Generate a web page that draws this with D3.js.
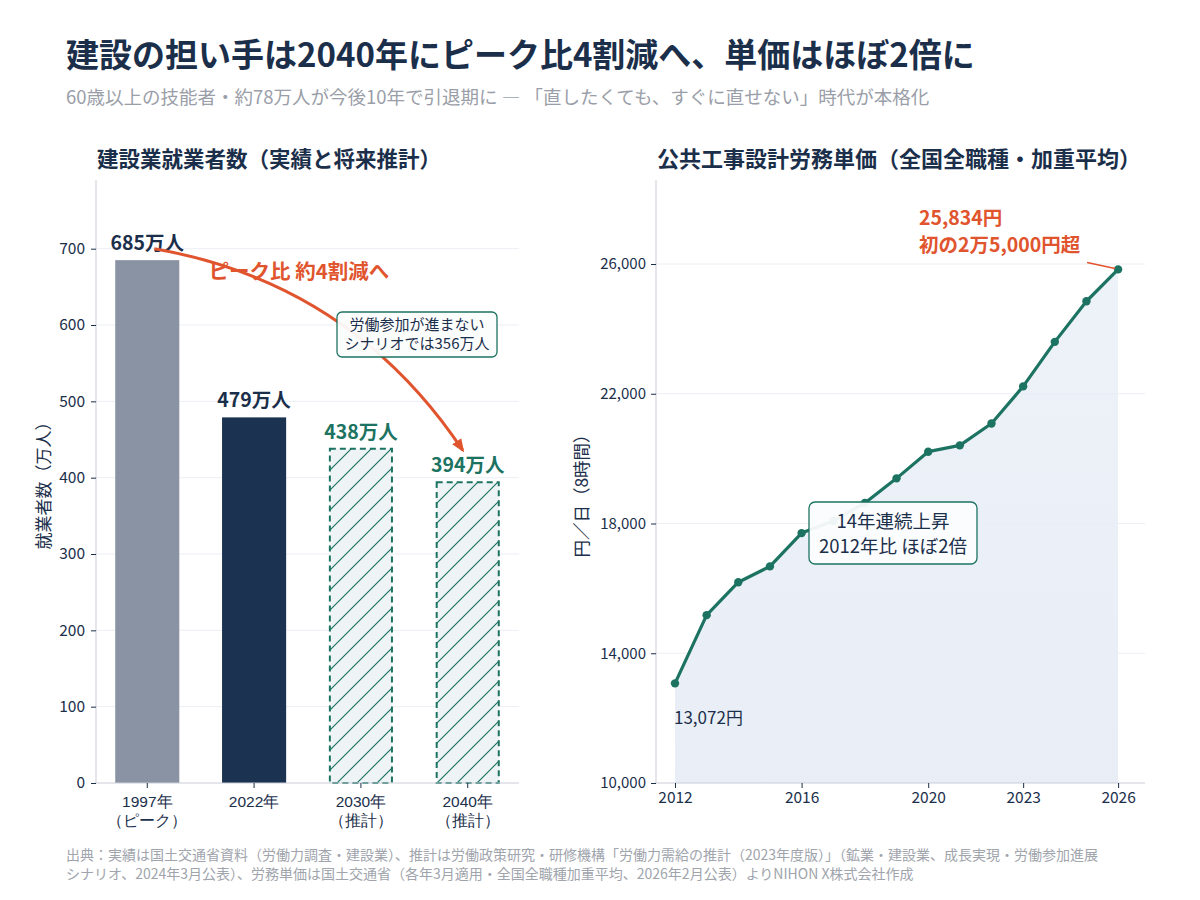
<!DOCTYPE html>
<html>
<head>
<meta charset="utf-8">
<script src="https://cdn.jsdelivr.net/npm/d3@7"></script>
<style>
  body { margin: 0; background: #fff; }
  svg { font-family: "Noto Sans CJK JP", "Noto Sans", sans-serif; }
</style>
</head>
<body>
<svg id="chart" width="1200" height="900"></svg>
<script>
// 建設業就業者数（万人）
var workerCats = ["1997年\n（ピーク）", "2022年", "2030年\n（推計）", "2040年\n（推計）"];
var workerVals = [685, 479, 438, 394];
var workerProj = [false, false, true, true];
var workerTicks = [0, 100, 200, 300, 400, 500, 600, 700];

// 公共工事設計労務単価（円／日）
var wageYears = [2012, 2013, 2014, 2015, 2016, 2017, 2018, 2019, 2020, 2021, 2022, 2023, 2024, 2025, 2026];
var wageVals = [13072, 15175, 16190, 16678, 17704, 18078, 18632, 19392, 20214, 20409, 21084, 22227, 23600, 24852, 25834];
var wageXTicks = [2012, 2016, 2020, 2023, 2026];
var wageYTicks = [10000, 14000, 18000, 22000, 26000];

var navy = "#1b2f4b",
    teal = "#1d7362",
    orange = "#e0542e",
    gridC = "#eceef4",
    spineC = "#c9cdd8",
    tickFont = 15.5;

var svg = d3.select("#chart");

// タイトル
svg.append("text").attr("x", 66).attr("y", 67)
    .attr("font-size", 33).attr("font-weight", 700).attr("fill", navy)
    .text("建設の担い手は2040年にピーク比4割減へ、単価はほぼ2倍に");
svg.append("text").attr("x", 66).attr("y", 104)
    .attr("font-size", 18.5).attr("fill", "#9a9ea8")
    .text("60歳以上の技能者・約78万人が今後10年で引退期に ― 「直したくても、すぐに直せない」時代が本格化");

var defs = svg.append("defs");
var pat = defs.append("pattern").attr("id", "hatch")
    .attr("patternUnits", "userSpaceOnUse").attr("width", 20).attr("height", 20);
pat.append("rect").attr("width", 20).attr("height", 20).attr("fill", "#eef3f6");
pat.append("path").attr("d", "M0,20 L20,0 M-5,5 L5,-5 M15,25 L25,15")
    .attr("stroke", teal).attr("stroke-width", 1.2);

var grad = defs.append("linearGradient").attr("id", "areaGrad")
    .attr("x1", 0).attr("y1", 0).attr("x2", 0).attr("y2", 1);
grad.append("stop").attr("offset", "0%").attr("stop-color", "#e6edf6").attr("stop-opacity", 0.7);
grad.append("stop").attr("offset", "100%").attr("stop-color", "#e9eef6").attr("stop-opacity", 1);

defs.append("marker").attr("id", "arrowHead")
    .attr("viewBox", "0 0 10 10").attr("refX", 8).attr("refY", 5)
    .attr("markerWidth", 4.5).attr("markerHeight", 4.5).attr("orient", "auto")
    .append("path").attr("d", "M0,1 L10,5 L0,9 Z").attr("fill", orange);

// ---------- 左：就業者数 ----------
var L = {left: 96, right: 519, top: 180, bottom: 783};

var x1 = d3.scaleBand().domain(workerCats).range([L.left, L.right])
    .paddingInner(0.4).paddingOuter(0.18);
var y1 = d3.scaleLinear().domain([0, 790]).range([L.bottom, L.top]);

svg.append("text").attr("x", 97).attr("y", 167)
    .attr("font-size", 21.5).attr("font-weight", 700).attr("fill", navy)
    .text("建設業就業者数（実績と将来推計）");

var g1 = svg.append("g");

g1.selectAll(".grid").data(workerTicks.slice(1)).enter().append("line")
    .attr("x1", L.left).attr("x2", L.right)
    .attr("y1", function (d) { return y1(d); }).attr("y2", function (d) { return y1(d); })
    .attr("stroke", gridC).attr("stroke-width", 1);

g1.selectAll(".bar").data(workerVals).enter().append("rect")
    .attr("x", function (d, i) { return x1(workerCats[i]) + (workerProj[i] ? 1 : 0); })
    .attr("width", function (d, i) { return x1.bandwidth() - (workerProj[i] ? 2 : 0); })
    .attr("y", function (d) { return y1(d); })
    .attr("height", function (d) { return y1(0) - y1(d); })
    .attr("fill", function (d, i) { return workerProj[i] ? "url(#hatch)" : (i === 0 ? "#8a93a3" : "#1b3350"); })
    .attr("stroke", function (d, i) { return workerProj[i] ? teal : "none"; })
    .attr("stroke-width", 2)
    .attr("stroke-dasharray", "6,4");

g1.selectAll(".val").data(workerVals).enter().append("text")
    .attr("x", function (d, i) { return x1(workerCats[i]) + x1.bandwidth() / 2; })
    .attr("y", function (d) { return y1(d) - 10; })
    .attr("text-anchor", "middle").attr("font-size", 19.5).attr("font-weight", 700)
    .attr("fill", function (d, i) { return workerProj[i] ? teal : navy; })
    .text(function (d) { return d + "万人"; });

// 軸
var ax1 = g1.append("g").attr("transform", "translate(" + L.left + ",0)")
    .call(d3.axisLeft(y1).tickValues(workerTicks).tickSize(5).tickPadding(6));
ax1.select(".domain").attr("stroke", spineC).attr("d", "M0," + L.top + "V" + L.bottom);
ax1.selectAll(".tick line").attr("stroke", navy);
ax1.selectAll(".tick text").attr("font-size", tickFont).attr("fill", navy)
    .attr("font-family", "'Noto Sans CJK JP', sans-serif");

var bx1 = g1.append("g").attr("transform", "translate(0," + L.bottom + ")")
    .call(d3.axisBottom(x1).tickSize(5).tickPadding(6).tickFormat(""));
bx1.select(".domain").attr("stroke", spineC).attr("d", "M" + L.left + ",0H" + L.right);
bx1.selectAll(".tick line").attr("stroke", navy);
bx1.selectAll(".tick").each(function (d) {
    var lines = d.split("\n");
    var t = d3.select(this).append("text").attr("text-anchor", "middle")
        .attr("font-size", tickFont).attr("fill", navy);
    lines.forEach(function (s, k) {
        t.append("tspan").attr("x", 0).attr("y", 24 + k * 19).text(s);
    });
});

svg.append("text")
    .attr("transform", "translate(50," + ((L.top + L.bottom) / 2) + ") rotate(-90)")
    .attr("text-anchor", "middle").attr("font-size", 17).attr("fill", navy)
    .text("就業者数（万人）");

// ピーク比の矢印
var p0 = [x1(workerCats[0]) + x1.bandwidth() / 2 + 7, y1(700)],
    p2 = [x1(workerCats[3]) + x1.bandwidth() / 2 - 5, y1(436)],
    pc = [351, 283];
g1.append("path")
    .attr("d", "M" + p0[0] + "," + p0[1] + " Q" + pc[0] + "," + pc[1] + " " + p2[0] + "," + p2[1])
    .attr("fill", "none").attr("stroke", orange).attr("stroke-width", 3)
    .attr("marker-end", "url(#arrowHead)");

g1.append("text").attr("x", 299).attr("y", 279).attr("text-anchor", "middle")
    .attr("font-size", 20.5).attr("font-weight", 700).attr("fill", orange)
    .text("ピーク比 約4割減へ");

var nb = g1.append("g").attr("transform", "translate(417,334)");
nb.append("rect").attr("x", -80).attr("y", -22).attr("width", 160).attr("height", 45)
    .attr("rx", 5).attr("fill", "#fbfcfc").attr("fill-opacity", 0.95)
    .attr("stroke", teal).attr("stroke-width", 1.3);
nb.append("text").attr("text-anchor", "middle").attr("font-size", 15).attr("fill", navy)
    .selectAll("tspan").data(["労働参加が進まない", "シナリオでは356万人"]).enter().append("tspan")
    .attr("x", 0).attr("y", function (d, i) { return -4 + i * 19; }).text(function (d) { return d; });

// ---------- 右：労務単価 ----------
var R = {left: 656, right: 1145, top: 180, bottom: 783};

var x2 = d3.scaleLinear().domain([2011.4, 2026.85]).range([R.left, R.right]);
var y2 = d3.scaleLinear().domain([10000, 28590]).range([R.bottom, R.top]);

svg.append("text").attr("x", 657).attr("y", 167)
    .attr("font-size", 22).attr("font-weight", 700).attr("fill", navy)
    .text("公共工事設計労務単価（全国全職種・加重平均）");

var g2 = svg.append("g");

g2.selectAll(".grid").data(wageYTicks.slice(1)).enter().append("line")
    .attr("x1", R.left).attr("x2", R.right)
    .attr("y1", function (d) { return y2(d); }).attr("y2", function (d) { return y2(d); })
    .attr("stroke", gridC).attr("stroke-width", 1);

var area = d3.area()
    .x(function (d, i) { return x2(wageYears[i]); })
    .y0(y2(10000))
    .y1(function (d) { return y2(d); });
g2.append("path").datum(wageVals).attr("d", area).attr("fill", "url(#areaGrad)");

var line = d3.line()
    .x(function (d, i) { return x2(wageYears[i]); })
    .y(function (d) { return y2(d); });
g2.append("path").datum(wageVals).attr("d", line)
    .attr("fill", "none").attr("stroke", teal).attr("stroke-width", 3.2)
    .attr("stroke-linejoin", "round");

g2.selectAll(".pt").data(wageVals).enter().append("circle")
    .attr("cx", function (d, i) { return x2(wageYears[i]); })
    .attr("cy", function (d) { return y2(d); })
    .attr("r", 4.2).attr("fill", teal);

var ax2 = g2.append("g").attr("transform", "translate(" + R.left + ",0)")
    .call(d3.axisLeft(y2).tickValues(wageYTicks).tickSize(5).tickPadding(5).tickFormat(d3.format(",")));
ax2.select(".domain").attr("stroke", spineC).attr("d", "M0," + R.top + "V" + R.bottom);
ax2.selectAll(".tick line").attr("stroke", navy);
ax2.selectAll(".tick text").attr("font-size", 15).attr("fill", navy)
    .attr("font-family", "'Noto Sans CJK JP', sans-serif");

var bx2 = g2.append("g").attr("transform", "translate(0," + R.bottom + ")")
    .call(d3.axisBottom(x2).tickValues(wageXTicks).tickSize(5).tickPadding(4).tickFormat(d3.format("d")));
bx2.select(".domain").attr("stroke", spineC).attr("d", "M" + R.left + ",0H" + R.right);
bx2.selectAll(".tick line").attr("stroke", navy);
bx2.selectAll(".tick text").attr("font-size", tickFont).attr("fill", navy)
    .attr("font-family", "'Noto Sans CJK JP', sans-serif");

svg.append("text")
    .attr("transform", "translate(588," + ((R.top + R.bottom) / 2 + 10) + ") rotate(-90)")
    .attr("text-anchor", "middle").attr("font-size", 17.5).attr("fill", navy)
    .text("円／日（8時間）");

// 注記
var last = wageVals.length - 1;
g2.append("line")
    .attr("x1", x2(wageYears[last]) - 31).attr("y1", y2(wageVals[last]) - 7)
    .attr("x2", x2(wageYears[last]) - 3).attr("y2", y2(wageVals[last]) - 1)
    .attr("stroke", orange).attr("stroke-width", 1.5);
g2.append("text").attr("font-size", 19.5).attr("font-weight", 700).attr("fill", orange)
    .selectAll("tspan").data(["25,834円", "初の2万5,000円超"]).enter().append("tspan")
    .attr("x", 919).attr("y", function (d, i) { return 225 + i * 27; }).text(function (d) { return d; });

g2.append("text").attr("x", x2(wageYears[0]) - 1).attr("y", y2(wageVals[0]) + 41)
    .attr("font-size", 17).attr("fill", navy)
    .text("13,072円");

var cb = g2.append("g").attr("transform", "translate(893,533)");
cb.append("rect").attr("x", -84).attr("y", -31).attr("width", 168).attr("height", 62)
    .attr("rx", 6).attr("fill", "#fbfcfd").attr("fill-opacity", 0.95)
    .attr("stroke", teal).attr("stroke-width", 1.3);
cb.append("text").attr("text-anchor", "middle").attr("font-size", 18.5).attr("fill", navy)
    .selectAll("tspan").data(["14年連続上昇", "2012年比 ほぼ2倍"]).enter().append("tspan")
    .attr("x", 0).attr("y", function (d, i) { return -5 + i * 25; }).text(function (d) { return d; });

// 出典
svg.append("text").attr("font-size", 14).attr("fill", "#a0a4ac")
    .selectAll("tspan").data([
        "出典：実績は国土交通省資料（労働力調査・建設業）、推計は労働政策研究・研修機構「労働力需給の推計（2023年度版）」（鉱業・建設業、成長実現・労働参加進展",
        "シナリオ、2024年3月公表）、労務単価は国土交通省（各年3月適用・全国全職種加重平均、2026年2月公表）よりNIHON X株式会社作成"
    ]).enter().append("tspan")
    .attr("x", 66).attr("y", function (d, i) { return 860 + i * 18.5; }).text(function (d) { return d; });
</script>
</body>
</html>
